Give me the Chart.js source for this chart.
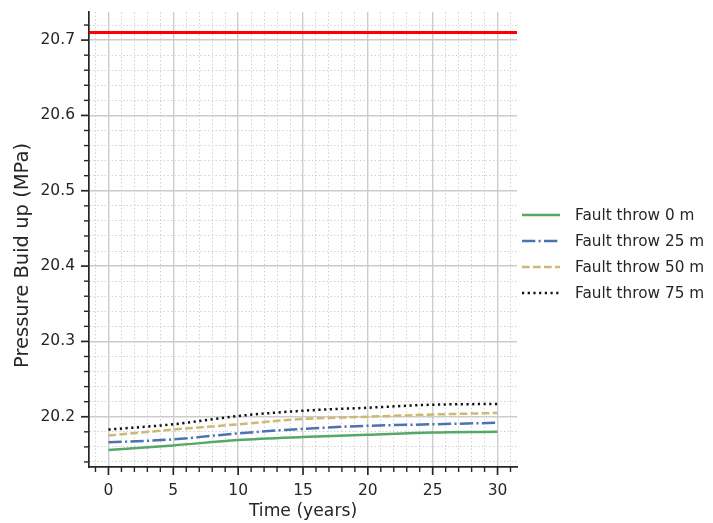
<!DOCTYPE html>
<html><head><meta charset="utf-8">
<script src="https://cdn.jsdelivr.net/npm/chart.js@4"></script>
<style>html,body{margin:0;padding:0;background:#fff;}</style>
</head><body>
<canvas id="c" width="713" height="523" style="display:block;width:713px;height:523px"></canvas>
<script>
// ---- data ----
const years = [0, 5, 10, 15, 20, 25, 30];
const throw0  = [20.156, 20.162, 20.169, 20.173, 20.176, 20.179, 20.180];
const throw25 = [20.166, 20.170, 20.178, 20.184, 20.188, 20.190, 20.192];
const throw50 = [20.175, 20.183, 20.190, 20.197, 20.200, 20.203, 20.205];
const throw75 = [20.183, 20.190, 20.201, 20.208, 20.212, 20.216, 20.217];
const limitPressure = 20.71;
const seriesLabels = ['Fault throw 0 m', 'Fault throw 25 m', 'Fault throw 50 m', 'Fault throw 75 m'];
const xMajorTicks = [0, 5, 10, 15, 20, 25, 30];
const yMajorTicks = [20.2, 20.3, 20.4, 20.5, 20.6, 20.7];
const xRange = [-1.5, 31.5];
const yRange = [20.1333, 20.7373];
const xMinorStep = 1;
const yMinorStep = 0.02;
const xTitle = 'Time (years)';
const yTitle = 'Pressure Buid up (MPa)';

// ---- helpers ----
const near = (a, b) => Math.abs(a - b) < 1e-6;
const isMajorX = v => xMajorTicks.some(t => near(t, v));
const isMajorY = v => yMajorTicks.some(t => near(t, v));
function stepTicks(lo, hi, step) {
  const out = [];
  const k0 = Math.ceil(lo / step - 1e-9), k1 = Math.floor(hi / step + 1e-9);
  for (let k = k0; k <= k1; k++) out.push(Math.round(k * step * 1e6) / 1e6);
  return out;
}
const xAllTicks = stepTicks(xRange[0], xRange[1], xMinorStep);
const yAllTicks = stepTicks(yRange[0], yRange[1], yMinorStep);
const pts = arr => years.map((t, i) => ({x: t, y: arr[i]}));

const FONT = '"DejaVu Sans", "Liberation Sans", sans-serif';
const TXT = '#262626';

const tickMarks = {
  id: 'tickMarks',
  afterDraw(chart) {
    const {ctx, chartArea: a, scales: {x, y}} = chart;
    ctx.save();
    ctx.strokeStyle = TXT;
    x.ticks.forEach(t => {
      const p = x.getPixelForValue(t.value);
      const maj = isMajorX(t.value);
      ctx.lineWidth = maj ? 1.7 : 1.4;
      ctx.beginPath(); ctx.moveTo(p, a.bottom); ctx.lineTo(p, a.bottom + (maj ? 8 : 5)); ctx.stroke();
    });
    y.ticks.forEach(t => {
      const p = y.getPixelForValue(t.value);
      const maj = isMajorY(t.value);
      ctx.lineWidth = maj ? 1.7 : 1.4;
      ctx.beginPath(); ctx.moveTo(a.left, p); ctx.lineTo(a.left - (maj ? 8 : 5), p); ctx.stroke();
    });
    // y axis title
    ctx.save();
    ctx.translate(23, (a.top + a.bottom) / 2 + 16);
    ctx.rotate(-Math.PI / 2);
    ctx.fillStyle = TXT;
    ctx.font = '19.5px ' + FONT;
    ctx.textAlign = 'center';
    ctx.textBaseline = 'middle';
    ctx.fillText(yTitle, 0, 0);
    ctx.restore();
    ctx.restore();
  }
};

const sideLegend = {
  id: 'sideLegend',
  afterDraw(chart) {
    const {ctx, chartArea: a} = chart;
    const x0 = a.right + 5, rowTop = 215, rowGap = 26;
    chart.data.datasets.forEach((ds, i) => {
      if (!ds.inLegend) return;
      const y = rowTop + rowGap * i;
      ctx.save();
      ctx.strokeStyle = ds.borderColor;
      ctx.lineWidth = ds.borderWidth;
      ctx.lineCap = 'butt';
      ctx.setLineDash(ds.borderDash || []);
      ctx.beginPath(); ctx.moveTo(x0, y); ctx.lineTo(x0 + 38, y); ctx.stroke();
      ctx.setLineDash([]);
      ctx.fillStyle = TXT;
      ctx.font = '15.3px ' + FONT;
      ctx.textBaseline = 'middle';
      ctx.textAlign = 'left';
      ctx.fillText(ds.label, x0 + 53, y + 1);
      ctx.restore();
    });
  }
};

function axisCommon(isMajor) {
  return {
    grid: {
      drawTicks: false,
      color: c => (c.tick && !isMajor(c.tick.value)) ? '#cfcfcf' : '#cccccc',
      lineWidth: c => (c.tick && !isMajor(c.tick.value)) ? 1 : 1.4
    },
    border: {
      display: true, color: TXT, width: 1.7,
      dash: c => (c.tick && !isMajor(c.tick.value)) ? [1.4, 2.3] : []
    }
  };
}
const zeroPad = s => { s.paddingTop = 0; s.paddingBottom = 0; s.paddingLeft = 0; s.paddingRight = 0; };

const xAxis = Object.assign(axisCommon(isMajorX), {
  type: 'linear', position: 'bottom', bounds: 'data',
  min: xRange[0], max: xRange[1],
  afterBuildTicks: s => { s.ticks = xAllTicks.map(v => ({value: v})); },
  afterFit: s => { s.height = 56; zeroPad(s); },
  ticks: {
    autoSkip: false, maxRotation: 0, minRotation: 0, padding: 15,
    color: TXT, font: {family: FONT, size: 15.5},
    callback: v => isMajorX(v) ? String(Math.round(v)) : ''
  },
  title: {display: true, text: xTitle, color: TXT,
    font: {family: FONT, size: 17.2}, padding: {top: 0, bottom: 1}}
});

const yAxis = Object.assign(axisCommon(isMajorY), {
  type: 'linear', position: 'left', bounds: 'data',
  min: yRange[0], max: yRange[1],
  afterBuildTicks: s => { s.ticks = yAllTicks.map(v => ({value: v})); },
  afterFit: s => { s.width = 89; zeroPad(s); },
  ticks: {
    autoSkip: false, padding: 14,
    color: TXT, font: {family: FONT, size: 15.5},
    callback: v => isMajorY(v) ? v.toFixed(1) : ''
  },
  title: {display: false}
});

const lineBase = {pointRadius: 0, fill: false, cubicInterpolationMode: 'monotone', borderCapStyle: 'butt'};
const LW = 2.5;

new Chart(document.getElementById('c'), {
  type: 'line',
  data: {
    datasets: [
      Object.assign({label: seriesLabels[0], data: pts(throw0), borderColor: '#55A868', borderWidth: LW, borderDash: [], inLegend: true}, lineBase),
      Object.assign({label: seriesLabels[1], data: pts(throw25), borderColor: '#4C72B0', borderWidth: LW, borderDash: [13.3, 3.3, 2.1, 3.3], inLegend: true}, lineBase),
      Object.assign({label: seriesLabels[2], data: pts(throw50), borderColor: '#CCB974', borderWidth: LW, borderDash: [7.7, 3.3], inLegend: true}, lineBase),
      Object.assign({label: seriesLabels[3], data: pts(throw75), borderColor: '#111111', borderWidth: LW, borderDash: [2.2, 3.5], inLegend: true}, lineBase),
      Object.assign({label: 'limit', data: [{x: xRange[0], y: limitPressure}, {x: xRange[1], y: limitPressure}], borderColor: '#ff0000', borderWidth: 3, inLegend: false}, lineBase)
    ]
  },
  options: {
    responsive: false, animation: false, devicePixelRatio: 1,
    layout: {padding: {left: 0, top: 12, right: 196, bottom: 0}},
    plugins: {legend: {display: false}, tooltip: {enabled: false}},
    scales: {x: xAxis, y: yAxis}
  },
  plugins: [tickMarks, sideLegend]
});
</script>
</body></html>
